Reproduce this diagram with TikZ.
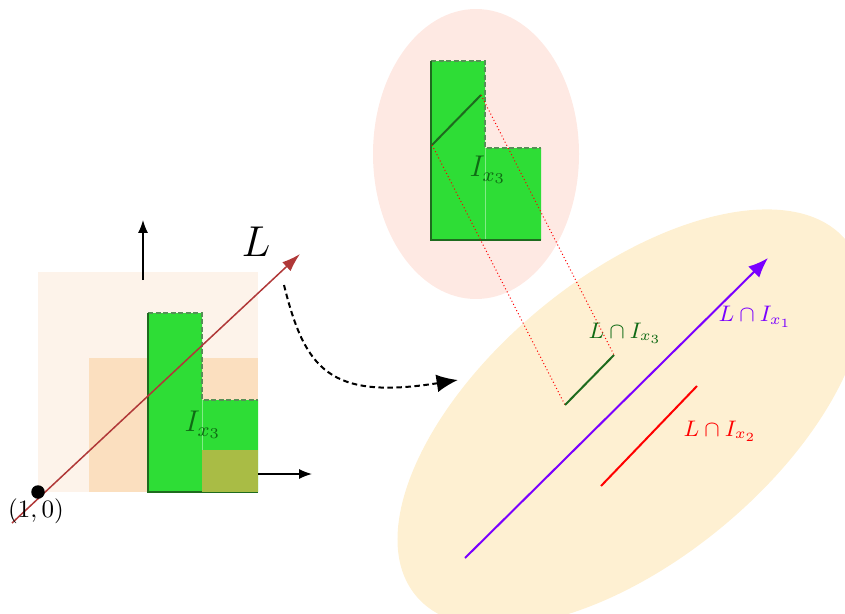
\documentclass[tikz,border=0pt]{standalone}
\usepackage{amsmath}
\usepackage{tikz}
\usepackage{xcolor}
\usetikzlibrary{arrows.meta, positioning, calc}
\definecolor{boxLight}{HTML}{FDF3EA}
\definecolor{boxMid}{HTML}{FBDFBF}
\definecolor{cellGreen}{HTML}{2EDD36}
\definecolor{cellOlive}{HTML}{A9BC45}
\definecolor{edgeGreen}{HTML}{1E6B1E}
\definecolor{labelGreen}{HTML}{0F6A14}
\definecolor{blobPink}{HTML}{FEE9E3}
\definecolor{blobYellow}{HTML}{FEF0D2}
\definecolor{lineL}{HTML}{B03838}
\definecolor{lineViolet}{HTML}{7A00FF}
\tikzset{
  solidedge/.style={draw=edgeGreen, thick},
  dashedge/.style={draw=edgeGreen!75, thick, dash pattern=on 2pt off 1pt},
  axisarrow/.style={-{Latex[length=1.8mm, width=1.4mm]}, semithick},
  bigarrow/.style={-{Latex[length=2.8mm, width=2.2mm]}},
  projline/.style={red, densely dotted, thin},
  cutline/.style={line width=0.8pt}
}

\begin{document}
\begin{tikzpicture}[x=0.4pt, y=-0.4pt]
    \useasboundingbox (0,0) rectangle (845,613);

    % blobs
    \fill[blobPink] (476,154) ellipse [x radius=103, y radius=145];
    \fill[blobYellow, rotate around={39.5:(631,418)}] (631,418) ellipse [x radius=279, y radius=142];

    % left box
    \fill[boxLight] (38,272) rectangle (258,492);
    \fill[boxMid] (89,358) rectangle (258,492);

    % the cell I_{x_3}, left and in the pink blob
    \foreach \dx/\dy in {0/0, 283/-252} {
      \begin{scope}[shift={(\dx,\dy)}]
        \coordinate (c0) at (148,492);
        \coordinate (c1) at (148,313);
        \coordinate (c2) at (202,313);
        \coordinate (c3) at (202,400);
        \coordinate (c4) at (258,400);
        \coordinate (c5) at (258,492);
        \fill[cellGreen] (c0) -- (c1) -- (c2) -- (c3) -- (c4) -- (c5) -- cycle;
        \draw[cellGreen!60!white, very thin] (c3) -- (202,492);
        \draw[dashedge] (c1) -- (c2) -- (c3) -- (c4);
        \draw[solidedge] (c1) -- (c0) -- (c5);
      \end{scope}
    }
    \fill[cellOlive] (202,450) rectangle (258,492);

    \node[text=labelGreen, font=\large] (ix-left) at (203,425) {$I_{x_3}$};
    \node[text=labelGreen, font=\large] (ix-top) at (488,170) {$I_{x_3}$};

    % axes and line L
    \coordinate (up0) at (143,280);
    \coordinate (up1) at (143,220);
    \coordinate (rt0) at (258,474);
    \coordinate (rt1) at (312,474);
    \draw[axisarrow] (up0) -- (up1);
    \draw[axisarrow] (rt0) -- (rt1);

    \coordinate (L0) at (12,523);
    \coordinate (L1) at (300,254);
    \draw[lineL, semithick, -{Latex[length=2.6mm, width=1.7mm]}] (L0) -- (L1);
    \node[font=\LARGE] (lbl-L) at (256,242) {$L$};

    \node[circle, fill, inner sep=0pt, minimum size=5.4pt] (origin) at (38,492) {};
    \node (lbl-origin) at (36,511) {$(1,0)$};

    % map to the yellow blob
    \coordinate (m0) at (284,285);
    \coordinate (m1) at (458,380);
    \draw[-{Latex[length=3mm, width=2.5mm]}, thick, dash pattern=on 2.2pt off 1.4pt] (m0) .. controls (305,370) and (330,400) .. (m1);

    % L cut by the cell, and its image
    \coordinate (p0) at (432,145);
    \coordinate (p1) at (481,95);
    \coordinate (q0) at (565,405);
    \coordinate (q1) at (614,355);
    \draw[edgeGreen, cutline] (p0) -- (p1);
    \draw[projline] (p0) -- (q0);
    \draw[projline] (p1) -- (q1);
    \draw[edgeGreen, cutline] (q0) -- (q1);

    \coordinate (v0) at (465,558);
    \coordinate (v1) at (768,258);
    \draw[lineViolet, cutline, bigarrow] (v0) -- (v1);

    \coordinate (r0) at (601,486);
    \coordinate (r1) at (697,386);
    \draw[red, cutline] (r0) -- (r1);

    \node[text=labelGreen, font=\small] (lbl-x3) at (625,333) {$L\cap I_{x_3}$};
    \node[text=lineViolet, font=\small] (lbl-x1) at (755,317) {$L\cap I_{x_1}$};
    \node[text=red, font=\small] (lbl-x2) at (720,431) {$L\cap I_{x_2}$};
  \end{tikzpicture}
\end{document}
